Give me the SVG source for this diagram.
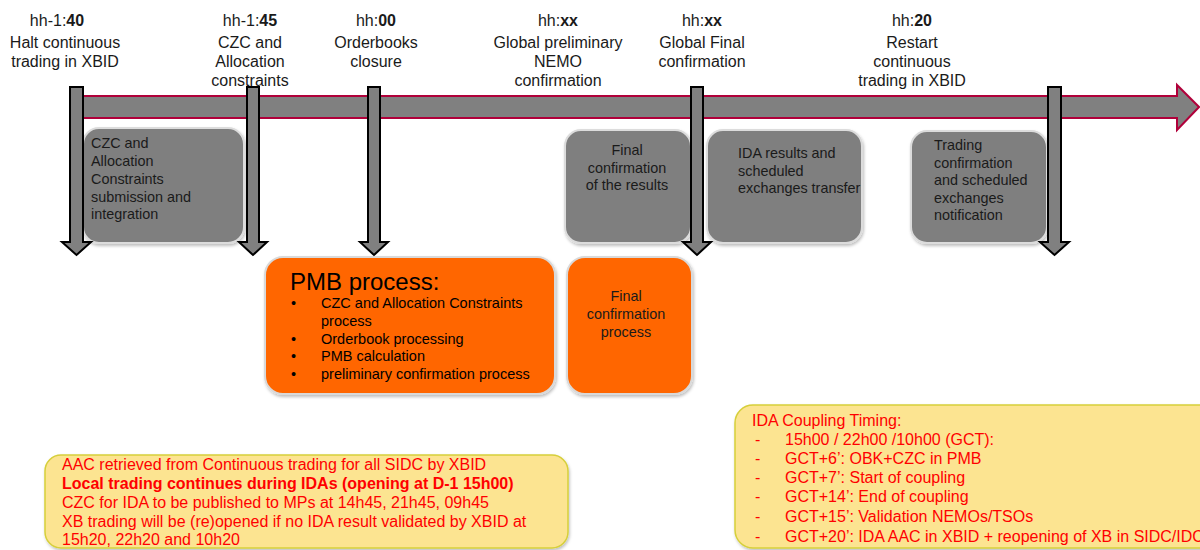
<svg xmlns="http://www.w3.org/2000/svg" width="1200" height="550" viewBox="0 0 1200 550">
<defs>
<filter id="sh" x="-10%" y="-10%" width="120%" height="130%">
<feDropShadow dx="1" dy="2" stdDeviation="1.5" flood-color="#000" flood-opacity="0.25"/>
</filter>
</defs>
<style>
text{font-family:"Liberation Sans",Arial,sans-serif;}
.lbl{font-size:16px;fill:#1a1a1a;text-anchor:middle;}
.bt{font-size:14.4px;fill:#1a1a1a;}
.btc{font-size:14.4px;fill:#1a1a1a;text-anchor:middle;}
.gbox{fill:#7f7f7f;stroke:#dcdcdc;stroke-width:2;filter:url(#sh);}
.obox{fill:#ff6600;stroke:#d9d9d9;stroke-width:2;filter:url(#sh);}
.ybox{fill:#fce491;stroke:#d6cf3a;stroke-width:1.5;filter:url(#sh);}
.rt{font-size:16px;fill:#ff0000;}
.darr{fill:#808080;stroke:#000;stroke-width:2;stroke-linejoin:miter;}
</style>
<rect width="1200" height="550" fill="#fff"/>

<g id="labels">
<text class="lbl" x="57" y="26">hh-1:<tspan font-weight="bold">40</tspan></text>
<text class="lbl" x="65" y="48">Halt continuous</text>
<text class="lbl" x="65" y="67">trading in XBID</text>
<text class="lbl" x="250" y="26">hh-1:<tspan font-weight="bold">45</tspan></text>
<text class="lbl" x="250" y="48">CZC and</text>
<text class="lbl" x="250" y="67">Allocation</text>
<text class="lbl" x="250" y="86">constraints</text>
<text class="lbl" x="376" y="26">hh:<tspan font-weight="bold">00</tspan></text>
<text class="lbl" x="376" y="48">Orderbooks</text>
<text class="lbl" x="376" y="67">closure</text>
<text class="lbl" x="558" y="26">hh:<tspan font-weight="bold">xx</tspan></text>
<text class="lbl" x="558" y="48">Global preliminary</text>
<text class="lbl" x="558" y="67">NEMO</text>
<text class="lbl" x="558" y="86">confirmation</text>
<text class="lbl" x="702" y="26">hh:<tspan font-weight="bold">xx</tspan></text>
<text class="lbl" x="702" y="48">Global Final</text>
<text class="lbl" x="702" y="67">confirmation</text>
<text class="lbl" x="912" y="26">hh:<tspan font-weight="bold">20</tspan></text>
<text class="lbl" x="912" y="48">Restart</text>
<text class="lbl" x="912" y="67">continuous</text>
<text class="lbl" x="912" y="86">trading in XBID</text>
</g>

<g id="timeline">
<polygon points="76,96 1177,96 1177,85 1199,107 1177,130 1177,118 76,118" fill="#808080" stroke="#b0003a" stroke-width="2"/>
</g>

<g id="box-czc">
<rect class="gbox" x="83" y="128" width="161" height="115" rx="16"/>
<text class="bt" x="91" y="148">CZC and</text>
<text class="bt" x="91" y="166">Allocation</text>
<text class="bt" x="91" y="184">Constraints</text>
<text class="bt" x="91" y="202">submission and</text>
<text class="bt" x="91" y="219">integration</text>
</g>

<g id="box-final-results">
<rect class="gbox" x="565" y="130" width="126" height="113" rx="16"/>
<text class="btc" x="627" y="155">Final</text>
<text class="btc" x="627" y="173">confirmation</text>
<text class="btc" x="627" y="190">of the results</text>
</g>

<g id="box-ida-results">
<rect class="gbox" x="707" y="130" width="155" height="113" rx="16"/>
<text class="bt" x="738" y="158">IDA results and</text>
<text class="bt" x="738" y="176">scheduled</text>
<text class="bt" x="738" y="193">exchanges transfer</text>
</g>

<g id="box-trading-conf">
<rect class="gbox" x="911" y="131" width="136" height="112" rx="16"/>
<text class="bt" x="934" y="150">Trading</text>
<text class="bt" x="934" y="168">confirmation</text>
<text class="bt" x="934" y="185">and scheduled</text>
<text class="bt" x="934" y="203">exchanges</text>
<text class="bt" x="934" y="220">notification</text>
</g>

<g id="box-pmb">
<rect class="obox" x="265" y="257" width="290" height="137" rx="18"/>
<text x="290" y="290" font-size="24" fill="#000">PMB process:</text>
<g font-size="14.5" fill="#000">
<text x="291" y="308">•</text><text x="321" y="308">CZC and Allocation Constraints</text>
<text x="321" y="326">process</text>
<text x="291" y="344">•</text><text x="321" y="344">Orderbook processing</text>
<text x="291" y="361">•</text><text x="321" y="361">PMB calculation</text>
<text x="291" y="379">•</text><text x="321" y="379">preliminary confirmation process</text>
</g>
</g>

<g id="box-final-process">
<rect class="obox" x="567" y="257" width="125" height="137" rx="18"/>
<text class="btc" x="626" y="301">Final</text>
<text class="btc" x="626" y="319">confirmation</text>
<text class="btc" x="626" y="337">process</text>
</g>

<g id="connectors">
<polygon class="darr" points="70,87 83,87 83,242 91,242 76.5,255 62,242 70,242 70,87"/>
<polygon class="darr" points="247,87 259,87 259,242 267,242 253,255 239,242 247,242 247,87"/>
<polygon class="darr" points="368,87 380,87 380,242 388,242 374,255 360,242 368,242 368,87"/>
<polygon class="darr" points="691,87 703,87 703,242 711,242 697,255 683,242 691,242 691,87"/>
<polygon class="darr" points="1048,87 1061,87 1061,242 1069,242 1054.5,255 1040,242 1048,242 1048,87"/>
</g>

<g id="note-aac">
<rect class="ybox" x="45" y="455" width="523" height="93" rx="16"/>
<text class="rt" x="62" y="470">AAC retrieved from Continuous trading for all SIDC by XBID</text>
<text class="rt" x="62" y="489" font-weight="bold">Local trading continues during IDAs (opening at D-1 15h00)</text>
<text class="rt" x="62" y="508">CZC for IDA to be published to MPs at 14h45, 21h45, 09h45</text>
<text class="rt" x="62" y="527">XB trading will be (re)opened if no IDA result validated by XBID at</text>
<text class="rt" x="62" y="545">15h20, 22h20 and 10h20</text>
</g>

<g id="note-timing">
<rect class="ybox" x="735" y="405" width="490" height="143" rx="18"/>
<text class="rt" x="752" y="426">IDA Coupling Timing:</text>
<text class="rt" x="755" y="445">-</text><text class="rt" x="785" y="445">15h00 / 22h00 /10h00 (GCT):</text>
<text class="rt" x="755" y="464">-</text><text class="rt" x="785" y="464">GCT+6’: OBK+CZC in PMB</text>
<text class="rt" x="755" y="483">-</text><text class="rt" x="785" y="483">GCT+7’: Start of coupling</text>
<text class="rt" x="755" y="502">-</text><text class="rt" x="785" y="502">GCT+14’: End of coupling</text>
<text class="rt" x="755" y="522">-</text><text class="rt" x="785" y="522">GCT+15’: Validation NEMOs/TSOs</text>
<text class="rt" x="755" y="542">-</text><text class="rt" x="785" y="542">GCT+20’: IDA AAC in XBID + reopening of XB in SIDC/IDC</text>
</g>
</svg>
